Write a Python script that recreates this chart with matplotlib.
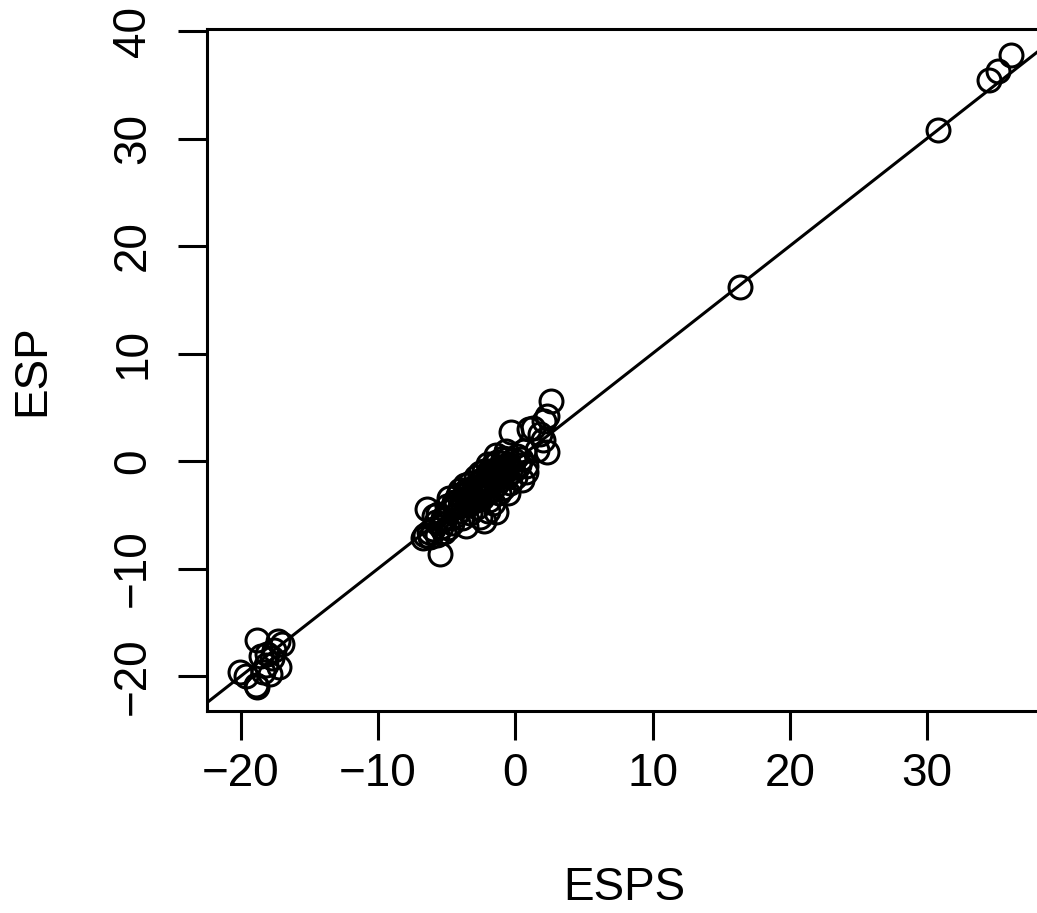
import matplotlib
matplotlib.use("Agg")
import matplotlib.pyplot as plt

pts = [
    # upper-right outliers of central cluster
    (2.6, 5.6), (2.3, 4.2), (2.1, 3.7), (1.0, 3.0), (1.3, 3.1), (-0.3, 2.7), (1.8, 2.5),
    (2.3, 0.8), (1.6, 1.0), (2.0, 2.0), (0.6, 0.9), (0.8, -1.0), (0.1, 0.5),
    # core
    (-0.5, -0.3), (-0.8, -0.6), (-1.0, -0.2), (-1.2, -1.0), (-1.5, -0.8), (-1.8, -1.5),
    (-2.0, -1.2), (-2.2, -2.0), (-2.5, -1.8), (-2.7, -2.6), (-3.0, -2.4), (-3.2, -3.1),
    (-0.2, -0.9), (-0.6, -1.4), (-1.1, -1.8), (-1.4, -2.2), (-1.7, -2.6), (-2.1, -3.0),
    (-2.4, -3.4), (-0.9, 0.3), (-1.3, -0.1), (-1.6, -0.4), (-2.3, -0.9), (-2.6, -1.1),
    (-0.4, -2.0), (-0.9, -2.5), (-1.2, -3.0), (-1.9, -3.6), (0.3, -0.4), (0.0, -1.5),
    (-0.7, 0.9), (-1.4, 0.6), (-2.0, -0.3), (-2.9, -1.5), (-3.3, -2.0), (-3.6, -2.8),
    (-3.8, -3.5), (-4.0, -4.2), (-3.5, -4.0), (-3.0, -3.7), (-2.8, -4.3), (-3.3, -4.8),
    (-4.2, -3.2), (-4.5, -3.8), (-4.7, -4.5), (-5.0, -4.2), (-4.3, -5.0), (-3.9, -5.3),
    (-2.6, -5.2), (-2.0, -4.6), (-1.4, -4.7), (-1.6, -3.9), (-0.5, -3.0), (0.5, -1.8),
    (0.8, -0.5), (0.4, 0.2), (-0.1, 0.1), (-2.3, -5.6), (-3.6, -6.0), (-4.6, -5.8),
    (-5.1, -5.4), (-5.4, -6.1), (-5.8, -5.7), (-5.2, -6.6), (-6.0, -6.3), (-6.3, -6.6),
    (-6.6, -6.9), (-6.7, -7.2), (-6.2, -7.1), (-5.7, -6.9), (-5.5, -8.6), (-6.4, -4.5),
    (-5.9, -5.1), (-5.6, -4.9), (-4.8, -3.4), (-4.0, -2.7), (-3.7, -2.2), (-5.3, -5.3),
    (-4.9, -6.2), (-4.1, -4.6), (-3.1, -3.4), (-2.4, -2.7), (-1.8, -2.0), (-1.0, -1.2),
    (-0.3, -0.6), (-2.8, -3.0), (-3.4, -3.6), (-4.4, -4.3), (-1.3, -1.5), (-2.1, -2.4),
    (-1.5, -1.2), (-0.8, -0.9), (-1.9, -0.9), (-2.7, -2.0), (-3.5, -3.0), (-1.1, -0.6),
    (-0.6, 0.2), (-1.7, -1.1), (-2.5, -2.3), (-3.0, -2.9), (-4.3, -3.9), (-3.8, -4.1),
    # lower-left cluster
    (-18.8, -16.6), (-17.3, -16.7), (-17.0, -17.0), (-20.1, -19.6), (-19.6, -20.0),
    (-18.9, -20.8), (-18.8, -21.0), (-18.2, -19.0), (-17.7, -18.3), (-17.2, -19.2),
    (-18.5, -18.1), (-17.9, -19.8), (-17.6, -17.6), (-18.4, -19.6), (-18.1, -17.9),
    # upper-right
    (16.4, 16.2), (30.8, 30.8), (34.5, 35.4), (35.2, 36.3), (36.1, 37.8),
]
esps = [p[0] for p in pts]
esp = [p[1] for p in pts]

line_intercept = 0.0
line_slope = 1.0

xticks = [-20, -10, 0, 10, 20, 30]
yticks = [-20, -10, 0, 10, 20, 30, 40]

plt.rcParams['font.family'] = ['Liberation Sans', 'DejaVu Sans']

W, H = 1037, 913
fig = plt.figure(figsize=(W / 100, H / 100), dpi=100)
left, right, top, bottom = 206.6, 1043.0, 29.5, 710.5
ax = fig.add_axes([left / W, 1 - bottom / H, (right - left) / W, (bottom - top) / H])

ax.plot(esps, esp, linestyle='none', marker='o', markersize=16.5,
        markerfacecolor='none', markeredgecolor='black', markeredgewidth=2.2)

xlim = (-22.5, 38.46)
ylim = (-23.2, 40.14)
ax.axline((0, line_intercept), slope=line_slope, color='black', lw=2.2)
ax.set_xlim(*xlim)
ax.set_ylim(*ylim)

for s in ax.spines.values():
    s.set_linewidth(2.2)
ax.set_xticks(xticks)
ax.set_yticks(yticks)
ax.set_xticklabels([str(t).replace('-', '\u2212') for t in xticks])
ax.set_yticklabels([str(t).replace('-', '\u2212') for t in yticks], rotation=90, va='center')
ax.tick_params(axis='both', length=21, width=2.2, labelsize=33)
ax.tick_params(axis='x', pad=9)
ax.tick_params(axis='y', pad=16)

ax.set_xlabel('ESPS', fontsize=33, labelpad=50)
ax.set_ylabel('ESP', fontsize=33, labelpad=41)

fig.savefig('out.png', dpi=100)
